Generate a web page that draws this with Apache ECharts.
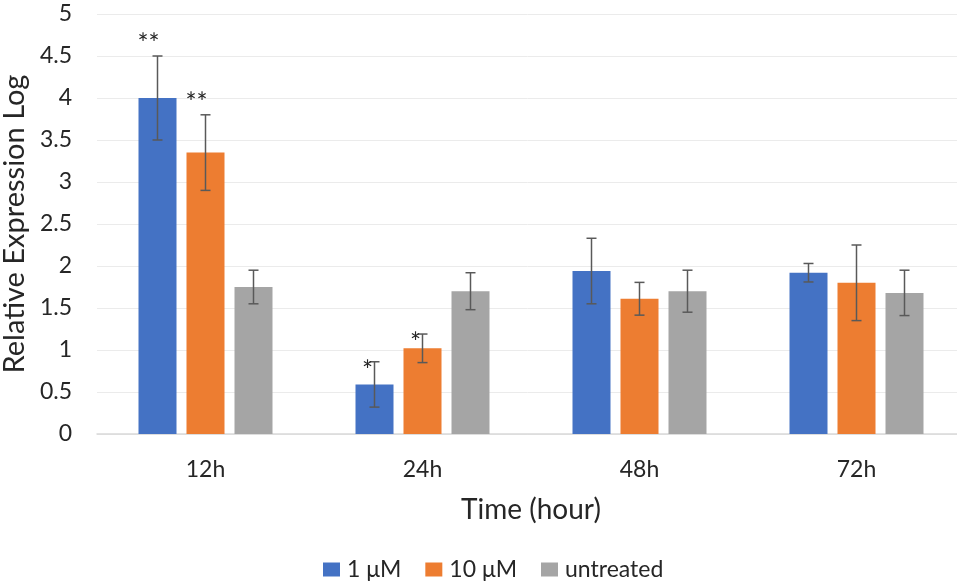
<!DOCTYPE html>
<html><head><meta charset="utf-8">
<script src="https://cdn.jsdelivr.net/npm/echarts@6/dist/echarts.min.js"></script>
<style>html,body{margin:0;padding:0;background:#fff}#c{width:957px;height:588px}</style>
</head><body><div id="c"></div>
<script>
var categories = ['12h', '24h', '48h', '72h'];
var seriesNames = ['1 μM', '10 μM', 'untreated'];
var values1 = [4.0, 0.59, 1.94, 1.92];
var values2 = [3.35, 1.02, 1.61, 1.80];
var values3 = [1.75, 1.70, 1.70, 1.68];
var err1 = [0.5, 0.27, 0.39, 0.11];
var err2 = [0.45, 0.17, 0.195, 0.45];
var err3 = [0.2, 0.22, 0.25, 0.27];
var sig1 = ['**', '*', '', ''];
var sig2 = ['**', '*', '', ''];
var sig3 = ['', '', '', ''];
var yTicks = [0, 0.5, 1, 1.5, 2, 2.5, 3, 3.5, 4, 4.5, 5];

var colors = ['#4472C4', '#ED7D31', '#A5A5A5'];
var FONT = 'Lato, "Open Sans", sans-serif';
var BAR_W = 38, GAP = 10;
var vals = [values1, values2, values3];
var errs = [err1, err2, err3];
var sigs = [sig1, sig2, sig3];

var series = [];
vals.forEach(function (v, i) {
  series.push({
    name: seriesNames[i], type: 'bar', data: v, barWidth: BAR_W, barGap: (GAP / BAR_W * 100) + '%',
    itemStyle: { color: colors[i] }, z: 2
  });
});
vals.forEach(function (v, i) {
  var offset = (i - 1) * (BAR_W + GAP);
  series.push({
    type: 'custom', name: seriesNames[i], z: 5, silent: true,
    data: v.map(function (val, k) { return [k, val, errs[i][k]]; }),
    encode: { x: 0, y: 1 },
    renderItem: function (params, api) {
      var k = api.value(0), val = api.value(1), e = api.value(2);
      var s = sigs[i][k];
      var top = api.coord([k, val + e]);
      var bot = api.coord([k, val - e]);
      var x = top[0] + offset;
      var cap = 5;
      var st = { stroke: '#595959', lineWidth: 1.5 };
      var children = [
        { type: 'line', shape: { x1: x, y1: top[1], x2: x, y2: bot[1] }, style: st },
        { type: 'line', shape: { x1: x - cap, y1: top[1], x2: x + cap, y2: top[1] }, style: st },
        { type: 'line', shape: { x1: x - cap, y1: bot[1], x2: x + cap, y2: bot[1] }, style: st }
      ];
      if (s) {
        var dy = s.length > 1 ? -11 : 10;
        children.push({
          type: 'text',
          style: { text: s, x: x - (s.length > 1 ? 9 : 7), y: top[1] + dy, textAlign: 'center', textVerticalAlign: 'middle',
                   font: '26px ' + FONT, fill: '#262626' }
        });
      }
      return { type: 'group', children: children };
    }
  });
});

var chart = echarts.init(document.getElementById('c'));
chart.setOption({
  animation: false,
  color: colors,
  textStyle: { fontFamily: FONT },
  grid: { left: 97, top: 14, width: 868, height: 420, containLabel: false, outerBoundsMode: 'none' },
  legend: {
    data: seriesNames, left: 318, top: 553, itemWidth: 17, itemHeight: 14, itemGap: 24,
    icon: 'rect', textStyle: { fontSize: 23, color: '#262626', fontFamily: FONT, padding: [0, 0, 0, 2] }
  },
  xAxis: {
    type: 'category', data: categories,
    name: 'Time (hour)', nameLocation: 'middle', nameGap: 62,
    nameTextStyle: { fontSize: 28, color: '#262626', fontFamily: FONT },
    axisLine: { lineStyle: { color: '#D9D9D9', width: 1.5 } },
    axisTick: { show: false },
    axisLabel: { fontSize: 23, color: '#262626', margin: 24, fontFamily: FONT }
  },
  yAxis: {
    type: 'value', min: yTicks[0], max: yTicks[yTicks.length - 1], interval: 0.5,
    name: 'Relative Expression Log', nameLocation: 'middle', nameGap: 68,
    nameTextStyle: { fontSize: 29, color: '#262626', fontFamily: FONT },
    axisLine: { show: false }, axisTick: { show: false },
    axisLabel: { fontSize: 23, color: '#262626', margin: 25, fontFamily: FONT },
    splitLine: { lineStyle: { color: '#EBEBEB' } }
  },
  series: series
});
</script></body></html>
